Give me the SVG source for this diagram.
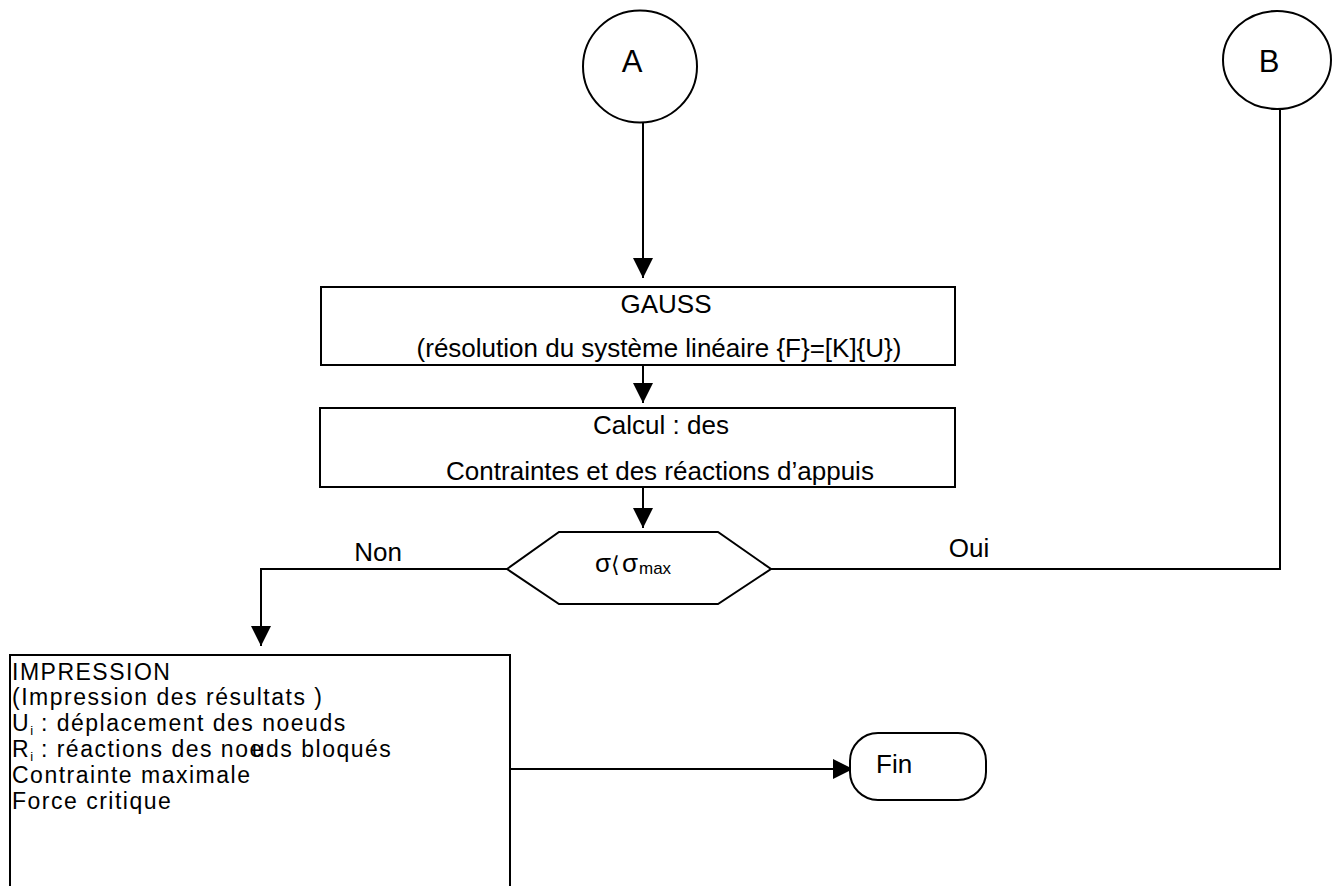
<svg xmlns="http://www.w3.org/2000/svg" width="1332" height="886" viewBox="0 0 1332 886">
<style>
text{font-family:"Liberation Sans",Arial,sans-serif;font-size:26px;fill:#000}
.big{font-size:31px}
.list{font-size:23px;letter-spacing:1.5px}
.shape{fill:#fff;stroke:#000;stroke-width:2}
.con{fill:none;stroke:#000;stroke-width:2}
.sub{font-size:13px;letter-spacing:0}
</style>
<defs>
<marker id="ah" viewBox="0 0 20 20" refX="20" refY="10" markerWidth="20" markerHeight="20" markerUnits="userSpaceOnUse" orient="auto">
<path d="M0,0 L20,10 L0,20 Z" fill="#000"/>
</marker>
</defs>
<rect width="1332" height="886" fill="#fff"/>
<g id="connectors">
<line class="con" x1="643" y1="122" x2="643" y2="278" marker-end="url(#ah)"/>
<line class="con" x1="643" y1="365" x2="643" y2="403" marker-end="url(#ah)"/>
<line class="con" x1="643" y1="487" x2="643" y2="528" marker-end="url(#ah)"/>
<polyline class="con" points="507,569 261,569 261,646" marker-end="url(#ah)"/>
<polyline class="con" points="771,569 1280,569 1280,109"/>
<line class="con" x1="511" y1="769" x2="853" y2="769" marker-end="url(#ah)"/>
<text x="378" y="561" text-anchor="middle">Non</text>
<text x="969" y="557" text-anchor="middle">Oui</text>
</g>
<g id="nodeA">
<ellipse class="shape" cx="640" cy="66.5" rx="57" ry="56"/>
<text class="big" x="632" y="72" text-anchor="middle">A</text>
</g>
<g id="nodeB">
<ellipse class="shape" cx="1277" cy="60" rx="54" ry="49"/>
<text class="big" x="1269" y="72" text-anchor="middle">B</text>
</g>
<g id="gauss">
<rect class="shape" x="321" y="287" width="634" height="78"/>
<text x="666" y="313" text-anchor="middle">GAUSS</text>
<text x="659" y="357" text-anchor="middle">(résolution du système linéaire {F}=[K]{U})</text>
</g>
<g id="calcul">
<rect class="shape" x="320" y="408" width="635" height="79"/>
<text x="661" y="434" text-anchor="middle">Calcul : des</text>
<text x="660" y="480" text-anchor="middle">Contraintes et des réactions d’appuis</text>
</g>
<g id="decision">
<polygon class="shape" points="507,569 559,532 718,532 771,569 718,604 559,604"/>
<text y="572"><tspan x="595">σ</tspan><tspan x="611" style="font-family:'DejaVu Sans',sans-serif;font-size:22px">⟨</tspan><tspan x="622">σ</tspan><tspan x="639" y="574" style="font-size:17px">max</tspan></text>
</g>
<g id="impression">
<rect class="shape" x="10" y="655" width="500" height="260"/>
<text class="list" x="12" y="679.5">IMPRESSION</text>
<text class="list" x="12" y="705.3">(Impression des résultats )</text>
<text class="list" x="12" y="731.1">U<tspan class="sub" dy="4">i</tspan><tspan dy="-4"> : déplacement des noeuds</tspan></text>
<text class="list" x="12" y="756.9">R<tspan class="sub" dy="4">i</tspan><tspan dy="-4"> : réactions des no</tspan><tspan>e</tspan><tspan dx="-12">u</tspan>ds bloqués</text>
<text class="list" x="12" y="782.7">Contrainte maximale</text>
<text class="list" x="12" y="808.5">Force critique</text>
</g>
<g id="fin">
<rect class="shape" x="850" y="733" width="136" height="67" rx="28" ry="28"/>
<text x="876" y="773">Fin</text>
</g>
</svg>
